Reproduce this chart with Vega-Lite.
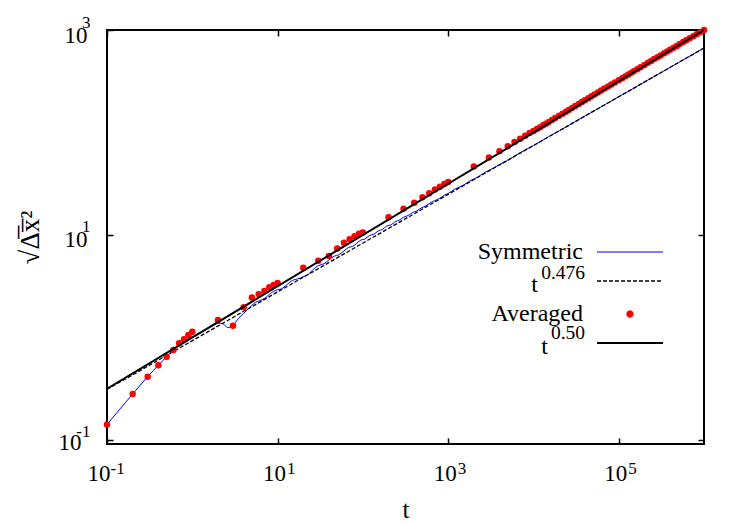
{
  "$schema": "https://vega.github.io/schema/vega-lite/v6.json",
  "width": 597,
  "height": 414,
  "autosize": {"type": "none"},
  "padding": {"left": 107, "top": 30, "right": 46, "bottom": 81},
  "background": "white",
  "config": {
    "view": {"stroke": "#000", "strokeWidth": 2},
    "font": "Liberation Serif",
    "axis": {
      "grid": false,
      "domain": false,
      "tickColor": "#000",
      "tickWidth": 1.5,
      "tickSize": -6,
      "labelFont": "Liberation Serif",
      "labelFontSize": 23,
      "labelColor": "#000",
      "labelFlush": false,
      "labelOverlap": false,
      "titleFont": "Liberation Serif",
      "titleFontSize": 25,
      "titleFontWeight": "normal",
      "titleColor": "#000"
    },
    "legend": {
      "orient": "none",
      "legendX": 511,
      "legendY": 210,
      "title": null,
      "padding": 0,
      "rowPadding": 5,
      "symbolSize": 900,
      "labelFont": "Liberation Serif",
      "labelFontSize": 24,
      "labelColor": "#000",
      "labelAlign": "right",
      "labelOffset": -59
    }
  },
  "datasets": {
    "symmetric": [
      {"t": 0.1, "y": 0.142}, {"t": 0.2, "y": 0.281}, {"t": 0.3, "y": 0.415}, {"t": 0.4, "y": 0.536},
      {"t": 0.5, "y": 0.65}, {"t": 0.6, "y": 0.755}, {"t": 0.7, "y": 0.85}, {"t": 0.8, "y": 0.92},
      {"t": 0.9, "y": 0.98}, {"t": 1.0, "y": 1.02}, {"t": 1.2, "y": 1.1}, {"t": 1.5, "y": 1.22},
      {"t": 1.8, "y": 1.33}, {"t": 2.0, "y": 1.38}, {"t": 2.3, "y": 1.36}, {"t": 2.6, "y": 1.25},
      {"t": 2.9, "y": 1.27}, {"t": 3.3, "y": 1.45}, {"t": 3.7, "y": 1.62}, {"t": 4, "y": 1.72},
      {"t": 4.5, "y": 1.9}, {"t": 5, "y": 2.06}, {"t": 5.5, "y": 2.2}, {"t": 6, "y": 2.27},
      {"t": 7, "y": 2.4}, {"t": 8, "y": 2.63}, {"t": 9, "y": 2.83}, {"t": 10, "y": 2.92},
      {"t": 11.5, "y": 3.03}, {"t": 13, "y": 3.31}, {"t": 15, "y": 3.61}, {"t": 17, "y": 3.72},
      {"t": 20, "y": 3.91}, {"t": 23, "y": 4.14}, {"t": 26, "y": 4.6}, {"t": 30, "y": 5.02},
      {"t": 35, "y": 5.25}, {"t": 40, "y": 5.71}, {"t": 46, "y": 6.21}, {"t": 52, "y": 6.41},
      {"t": 60, "y": 6.99}, {"t": 68, "y": 7.56}, {"t": 76, "y": 7.75}, {"t": 85, "y": 8.32},
      {"t": 95, "y": 8.94}, {"t": 105, "y": 9.12}, {"t": 120, "y": 9.9}, {"t": 135, "y": 10.18},
      {"t": 150, "y": 10.91}, {"t": 170, "y": 11.36}, {"t": 190, "y": 12.2}, {"t": 215, "y": 12.59},
      {"t": 240, "y": 13.51}, {"t": 270, "y": 14.03}, {"t": 300, "y": 14.89}, {"t": 340, "y": 15.5},
      {"t": 380, "y": 16.51}, {"t": 430, "y": 17.17}, {"t": 480, "y": 18.27}, {"t": 550, "y": 19.31},
      {"t": 620, "y": 20.64}, {"t": 700, "y": 21.66}, {"t": 800, "y": 22.85}, {"t": 900, "y": 24.41},
      {"t": 1000, "y": 25.42}, {"t": 1200, "y": 28.01}, {"t": 1500, "y": 30.52}, {"t": 1800, "y": 33.62},
      {"t": 2200, "y": 36.61}, {"t": 2700, "y": 40.77}, {"t": 3300, "y": 44.43}, {"t": 4000, "y": 48.67},
      {"t": 5000, "y": 53.6}, {"t": 7000, "y": 63.54}, {"t": 10000, "y": 74.6}, {"t": 15000, "y": 90.9},
      {"t": 20000, "y": 103.7}, {"t": 30000, "y": 125.8}, {"t": 50000, "y": 160.4}, {"t": 70000, "y": 188.3},
      {"t": 100000, "y": 223.1}, {"t": 150000, "y": 270.5}, {"t": 200000, "y": 310.3}, {"t": 300000, "y": 376.4},
      {"t": 500000, "y": 480.0}, {"t": 700000, "y": 563.2}, {"t": 1000000, "y": 667.6}
    ],
    "fit0476": [
      {"t": 0.1, "y": 0.311}, {"t": 1000000, "y": 667.6}
    ],
    "averaged": [
      {"t": 0.1, "y": 0.142}, {"t": 0.2, "y": 0.281}, {"t": 0.3, "y": 0.415}, {"t": 0.4, "y": 0.536},
      {"t": 0.5, "y": 0.65}, {"t": 0.6, "y": 0.755}, {"t": 0.7, "y": 0.877}, {"t": 0.8, "y": 0.96},
      {"t": 0.9, "y": 1.06}, {"t": 1.0, "y": 1.14}, {"t": 2, "y": 1.48}, {"t": 3, "y": 1.3},
      {"t": 4, "y": 1.97}, {"t": 5, "y": 2.46}, {"t": 6, "y": 2.65}, {"t": 7, "y": 2.85},
      {"t": 8, "y": 3.09}, {"t": 9, "y": 3.25}, {"t": 10, "y": 3.4}, {"t": 20, "y": 4.78},
      {"t": 30, "y": 5.6}, {"t": 40, "y": 6.24}, {"t": 50, "y": 7.4}, {"t": 60, "y": 8.4},
      {"t": 70, "y": 9.1}, {"t": 80, "y": 9.7}, {"t": 90, "y": 10.3}, {"t": 100, "y": 10.6},
      {"t": 200, "y": 14.9}, {"t": 300, "y": 18.0}, {"t": 400, "y": 20.6}, {"t": 500, "y": 23.3},
      {"t": 600, "y": 25.5}, {"t": 700, "y": 27.8}, {"t": 800, "y": 29.6}, {"t": 900, "y": 31.4},
      {"t": 1000, "y": 32.9}, {"t": 2000, "y": 46.5}, {"t": 3000, "y": 57.0}, {"t": 4000, "y": 65.8},
      {"t": 5000, "y": 73.5}, {"t": 6000, "y": 80.6}, {"t": 7000, "y": 87.0}, {"t": 8000, "y": 93.0},
      {"t": 9000, "y": 98.7}, {"t": 10000, "y": 103.5}, {"t": 11000, "y": 108.0}, {"t": 12000, "y": 112.8},
      {"t": 13000, "y": 117.4}, {"t": 14000, "y": 121.9}, {"t": 15000, "y": 126.1}, {"t": 16500, "y": 132.3},
      {"t": 18000, "y": 138.2}, {"t": 20000, "y": 145.7}, {"t": 22000, "y": 152.8}, {"t": 24000, "y": 159.6},
      {"t": 26000, "y": 166.1}, {"t": 28500, "y": 173.9}, {"t": 31000, "y": 181.4}, {"t": 34000, "y": 189.9},
      {"t": 37000, "y": 198.1}, {"t": 40000, "y": 206.0}, {"t": 44000, "y": 216.1}, {"t": 48000, "y": 225.7},
      {"t": 52000, "y": 234.9}, {"t": 57000, "y": 245.9}, {"t": 62000, "y": 256.5}, {"t": 68000, "y": 268.6},
      {"t": 75000, "y": 280.7}, {"t": 82000, "y": 293.5}, {"t": 90000, "y": 307.5}, {"t": 100000, "y": 322.6},
      {"t": 110000, "y": 338.3}, {"t": 120000, "y": 353.3}, {"t": 130000, "y": 367.8}, {"t": 140000, "y": 381.7},
      {"t": 150000, "y": 395.0}, {"t": 165000, "y": 414.3}, {"t": 180000, "y": 432.7}, {"t": 200000, "y": 456.2},
      {"t": 220000, "y": 478.4}, {"t": 240000, "y": 499.7}, {"t": 260000, "y": 520.1}, {"t": 285000, "y": 541.9},
      {"t": 310000, "y": 565.1}, {"t": 340000, "y": 591.8}, {"t": 370000, "y": 617.4}, {"t": 400000, "y": 641.9},
      {"t": 440000, "y": 670.0}, {"t": 480000, "y": 699.7}, {"t": 520000, "y": 728.3}, {"t": 570000, "y": 762.5},
      {"t": 620000, "y": 795.3}, {"t": 680000, "y": 828.7}, {"t": 750000, "y": 870.4}, {"t": 820000, "y": 910.1},
      {"t": 900000, "y": 951.5}, {"t": 1000000, "y": 1000}
    ],
    "fit050": [
      {"t": 0.1, "y": 0.3162}, {"t": 1000000, "y": 1000}
    ]
  },
  "resolve": {"axis": {"x": "independent", "y": "independent"}},
  "layer": [
    {
      "data": {"name": "symmetric"},
      "mark": {"type": "line", "strokeWidth": 1, "interpolate": "monotone"},
      "encoding": {
        "x": {
          "field": "t", "type": "quantitative",
          "scale": {"type": "log", "domain": [0.1, 1000000], "nice": false},
          "axis": {
            "orient": "bottom",
            "values": [0.1, 10, 1000, 100000],
            "labelExpr": "'10'",
            "labelAlign": "right",
            "labelBaseline": "alphabetic",
            "labelPadding": 42,
            "labelOffset": {"condition": {"test": "datum.value < 1", "value": 3}, "value": 8},
            "title": "t",
            "titlePadding": 12
          }
        },
        "y": {
          "field": "y", "type": "quantitative",
          "scale": {"type": "log", "domain": [0.0914, 1000], "nice": false},
          "axis": {
            "orient": "left",
            "values": [0.1, 10, 1000],
            "labelExpr": "'10'",
            "labelAlign": "right",
            "labelBaseline": "alphabetic",
            "labelOffset": {"condition": {"test": "datum.value < 1", "value": 10}, "value": 12},
            "labelPadding": {"condition": {"test": "datum.value < 1", "value": 32}, "value": 26},
            "title": "√Δ̅x̅²",
            "titleFontSize": 27,
            "titlePadding": 14
          }
        },
        "color": {
          "datum": "sym", "type": "nominal",
          "scale": {
            "domain": ["sym", "p476", "avg", "p50"],
            "range": ["#0000ff", "#000000", "#ff0000", "#000000"]
          },
          "legend": {
            "labelExpr": "datum.value === 'sym' ? 'Symmetric' : datum.value === 'avg' ? 'Averaged' : 't'",
            "encode": {
              "labels": {
                "update": {
                  "dx": {"signal": "datum.value === 'p476' ? -45 : datum.value === 'p50' ? -35 : 0"},
                  "dy": {"signal": "datum.value === 'p476' || datum.value === 'p50' ? 3.5 : 0"}
                }
              },
              "symbols": {
                "update": {
                  "shape": {"signal": "datum.value === 'avg' ? 'circle' : 'M-2.2,0H2.2'"},
                  "size": {"signal": "datum.value === 'avg' ? 28 : 900"},
                  "strokeDash": {"signal": "datum.value === 'p476' ? [4, 2] : [1, 0]"},
                  "strokeWidth": {"signal": "datum.value === 'sym' ? 1 : datum.value === 'p476' ? 1.3 : 2"},
                  "stroke": {"signal": "datum.value === 'avg' ? 'transparent' : datum.value === 'sym' ? '#0000ff' : '#000000'"},
                  "fill": {"signal": "datum.value === 'avg' ? '#ff0000' : 'transparent'"},
                  "opacity": {"value": 1}
                }
              }
            }
          }
        },
        "opacity": {
          "datum": "e1", "type": "ordinal",
          "scale": {"domain": ["e1", "e2", "e3", "e4"], "range": [1, 1, 1, 1]},
          "legend": {
            "legendY": 198,
            "labelOffset": -63,
            "symbolType": "M0,0",
            "symbolStrokeWidth": 0,
            "symbolStrokeColor": "transparent",
            "symbolFillColor": "transparent",
            "labelExpr": "datum.value === 'e2' ? '0.476' : datum.value === 'e4' ? '0.50' : ''",
            "encode": {
              "labels": {"update": {"fontSize": {"value": 19.5}}},
              "symbols": {"update": {"shape": {"value": "M0,0"}, "strokeWidth": {"value": 0}, "stroke": {"value": "transparent"}, "fill": {"value": "transparent"}}}
            }
          }
        }
      }
    },
    {
      "data": {"name": "fit0476"},
      "mark": {"type": "line", "strokeWidth": 1.3, "strokeDash": [4, 2]},
      "encoding": {
        "x": {"field": "t", "type": "quantitative", "axis": {"orient": "top", "values": [0.1, 10, 1000, 100000], "labels": false, "title": null}},
        "y": {"field": "y", "type": "quantitative", "axis": {"orient": "right", "values": [0.1, 10, 1000], "labels": false, "title": null}},
        "color": {"datum": "p476", "type": "nominal"}
      }
    },
    {
      "data": {"name": "averaged"},
      "mark": {"type": "circle", "size": 42, "opacity": 1},
      "encoding": {
        "x": {
          "field": "t", "type": "quantitative",
          "axis": {
            "orient": "bottom",
            "values": [0.1, 10, 1000, 100000],
            "ticks": false,
            "labelExpr": "datum.value < 1 ? '-1' : datum.value < 100 ? '1' : datum.value < 10000 ? '3' : '5'",
            "labelFontSize": 17,
            "labelAlign": "left",
            "labelBaseline": "alphabetic",
            "labelPadding": 29,
            "labelOffset": {"condition": {"test": "datum.value < 1", "value": 3}, "value": 9},
            "title": null
          }
        },
        "y": {
          "field": "y", "type": "quantitative",
          "axis": {
            "orient": "left",
            "values": [0.1, 10, 1000],
            "ticks": false,
            "labelExpr": "datum.value < 1 ? '-1' : datum.value < 100 ? '1' : '3'",
            "labelFontSize": 17,
            "labelAlign": "right",
            "labelBaseline": "alphabetic",
            "labelOffset": -3,
            "labelPadding": 17,
            "title": null
          }
        },
        "color": {"datum": "avg", "type": "nominal"}
      }
    },
    {
      "data": {"name": "fit050"},
      "mark": {"type": "line", "strokeWidth": 2},
      "encoding": {
        "x": {"field": "t", "type": "quantitative", "axis": null},
        "y": {"field": "y", "type": "quantitative", "axis": null},
        "color": {"datum": "p50", "type": "nominal"}
      }
    }
  ]
}
